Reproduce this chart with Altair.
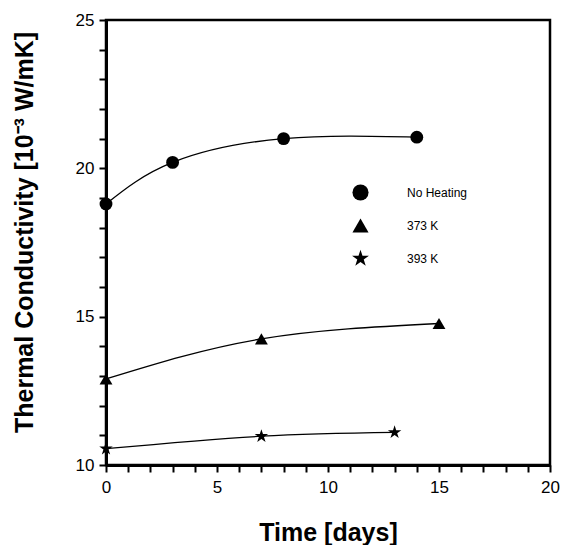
import altair as alt
import pandas as pd

# ---- data ----
series_names = ["No Heating", "373 K", "393 K"]
days_no_heat = [0, 3, 8, 14]
tc_no_heat = [18.8, 20.2, 21.0, 21.05]
days_373 = [0, 7, 15]
tc_373 = [12.9, 14.25, 14.77]
days_393 = [0, 7, 13]
tc_393 = [10.55, 10.97, 11.1]

x_major = [0, 5, 10, 15, 20]
y_major = [10, 15, 20, 25]
x_minor_ticks = [1, 2, 3, 4, 6, 7, 8, 9, 11, 12, 13, 14, 16, 17, 18, 19]
y_minor_ticks = [11, 12, 13, 14, 16, 17, 18, 19, 21, 22, 23, 24]

rows = []
for name, xs, ys in [(series_names[0], days_no_heat, tc_no_heat),
                     (series_names[1], days_373, tc_373),
                     (series_names[2], days_393, tc_393)]:
    for a, b in zip(xs, ys):
        rows.append({"series": name, "day": a, "tc": b})
df = pd.DataFrame(rows)

W, H = 444, 445
FONT = "Liberation Sans"
R = 1.1
STAR = ("M0,-{a}L{b},-{c}L{d},-{c}L{e},{f}L{g},{h}L0,{i}L-{g},{h}L-{e},{f}L-{d},-{c}L-{b},-{c}Z"
        .format(a=R, b=round(0.2245 * R, 4), c=round(0.309 * R, 4), d=round(0.951 * R, 4),
                e=round(0.363 * R, 4), f=round(0.118 * R, 4), g=round(0.588 * R, 4),
                h=round(0.809 * R, 4), i=round(0.382 * R, 4)))

xscale = alt.Scale(domain=[0, 20], nice=False, zero=False)
yscale = alt.Scale(domain=[10, 25], nice=False, zero=False)

major_only = "datum.value % 5 === 0 ? datum.label : ''"

x_axis = alt.Axis(values=sorted(x_major + x_minor_ticks), ticks=True, tickSize=7,
                  tickWidth=2, tickColor="black", grid=False,
                  domainWidth=3, domainColor="black", labelFontSize=17,
                  labelFont=FONT, labelColor="black", labelPadding=7,
                  labelFlush=False, labelOverlap=False, labelExpr=major_only,
                  title="Time [days]", titleFont=FONT, titleFontSize=25,
                  titleFontWeight="bold", titleColor="black", titlePadding=25)
y_axis = alt.Axis(values=sorted(y_major + y_minor_ticks), ticks=True, tickSize=7,
                  tickWidth=2, tickColor="black", grid=False,
                  domainWidth=3, domainColor="black", labelFontSize=17,
                  labelFont=FONT, labelColor="black", labelPadding=5,
                  labelFlush=False, labelOverlap=False, labelExpr=major_only,
                  title="Thermal Conductivity [10⁻³ W/mK]", titleFont=FONT,
                  titleFontSize=25, titleFontWeight="bold", titleColor="black",
                  titlePadding=38, titleY=212)

lines = alt.Chart(df).mark_line(color="black", strokeWidth=1.3, interpolate="natural").encode(
    x=alt.X("day:Q", scale=xscale, axis=x_axis),
    y=alt.Y("tc:Q", scale=yscale, axis=y_axis),
    detail="series:N")

points = alt.Chart(df).mark_point(filled=True, color="black", opacity=1, size=165).encode(
    x=alt.X("day:Q", scale=xscale, axis=x_axis),
    y=alt.Y("tc:Q", scale=yscale, axis=y_axis),
    shape=alt.Shape("series:N",
                    scale=alt.Scale(domain=series_names,
                                    range=["circle", "triangle-up", STAR]),
                    legend=alt.Legend(title=None, orient="none", legendX=246, legendY=164,
                                      symbolSize=260, symbolFillColor="black",
                                      symbolStrokeColor="black", symbolStrokeWidth=0,
                                      labelFont=FONT, labelFontSize=12, labelColor="black",
                                      labelOffset=38, rowPadding=16, padding=0)))

chart = alt.layer(lines, points).properties(
    width=W, height=H,
    autosize=alt.AutoSizeParams(type="none"),
    padding={"left": 98, "top": 12, "right": 10, "bottom": 80},
    background="white",
).configure_view(
    stroke="black", strokeWidth=2.5
)

chart.save("out.html", embed_options={"renderer": "svg", "actions": False})
